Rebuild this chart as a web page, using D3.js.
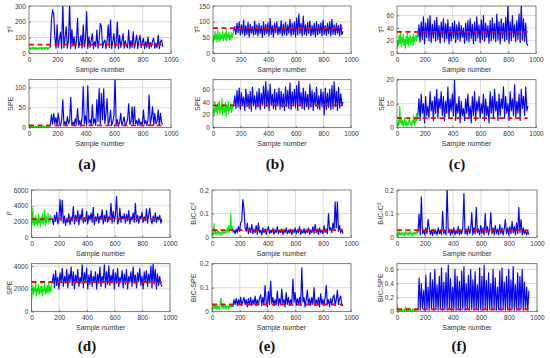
<!DOCTYPE html>
<html><head><meta charset="utf-8">
<script src="https://cdn.jsdelivr.net/npm/d3@7"></script>
<style>body{margin:0;background:#fff}svg{display:block}</style>
</head><body><svg id="c" width="550" height="358"></svg>
<script>
// ---------- data ----------
const xTicks = [0,200,400,600,800,1000];
const greenSamples = d3.range(0,151,5);   // sample numbers of normal data
const blueSamples = d3.range(150,943,8);  // sample numbers of fault data
const limitSpan = [0,940];
const panelNames = ["(a)","(b)","(c)","(d)","(e)","(f)"];

const a1Green=[25,38,22,35,28,40,24,36,30,38,22,34,27,39,25,36,29,40,23,35,28,38,24,37,30,39,26,35,28,38,35];
const a1Blue=[35,211,275,250,105,32,180,38,90,135,30,320,36,100,170,32,80,320,30,150,45,105,30,80,222,35,70,115,32,180,40,90,264,30,105,38,80,125,30,75,42,148,32,85,190,170,35,70,85,30,80,180,35,211,30,75,125,33,70,200,30,115,38,75,125,32,80,45,35,148,30,80,38,138,32,70,115,30,80,115,35,70,95,30,75,38,105,30,70,40,80,95,32,65,36,115,30,75,85,40];
const a2Green=[2,4,1,5,2,3,1,4,2,5,1,3,2,4,1,5,2,3,1,4,2,5,1,3,2,4,1,3,2,4,5];
const a2Blue=[5,33,8,36,10,25,6,36,12,4,20,70,8,15,5,28,10,18,76,6,14,5,23,8,48,6,18,4,25,103,10,30,6,105,12,20,5,57,10,22,6,70,15,98,8,86,20,97,10,35,73,6,18,44,5,15,30,125,8,20,4,12,36,6,15,27,5,12,20,60,8,15,52,6,52,10,18,5,23,8,14,6,44,10,18,5,20,82,8,25,52,6,36,10,15,44,6,36,12,8];

const b1Green=[20,55,40,70,45,60,35,72,50,38,65,42,58,48,70,40,55,62,45,75,38,60,50,68,42,57,45,65,50,60,70];
const b1Blue=[70,85,60,95,65,100,58,90,62,105,55,88,60,98,52,92,64,85,57,102,60,90,55,95,63,88,50,100,58,92,62,97,55,110,60,88,52,95,65,100,58,85,62,104,55,93,60,98,57,90,63,108,55,95,60,100,52,112,58,125,62,95,55,118,60,90,57,98,63,102,55,88,60,95,52,100,58,92,62,97,55,105,60,88,57,95,62,100,55,108,60,90,58,95,62,88,55,92,60,70];
const b2Green=[17,30,22,40,25,35,20,38,28,42,22,33,26,45,20,36,30,24,40,18,35,27,42,22,33,28,38,24,36,30,35];
const b2Blue=[35,50,30,58,32,62,28,55,35,48,27,60,33,52,30,57,26,63,34,50,29,56,32,61,28,54,35,65,30,72,33,58,27,68,35,52,30,60,28,55,34,62,29,57,32,53,27,64,33,58,30,70,28,56,35,60,31,66,27,73,34,55,30,62,28,57,33,52,29,68,32,58,27,55,34,63,30,50,28,60,33,56,20,62,29,54,32,60,28,66,30,72,33,57,27,63,31,53,34,40];

const c1Green=[8,20,12,28,15,35,10,25,18,30,12,22,8,27,15,33,11,24,18,29,13,20,26,14,31,17,23,28,20,32,25];
const c1Blue=[25,45,18,50,22,58,15,48,25,55,20,60,17,46,24,52,19,57,22,44,16,50,25,55,18,47,23,53,15,42,20,48,24,51,17,45,22,50,19,44,25,40,16,48,21,52,18,55,23,46,15,50,20,58,24,45,17,53,22,60,19,48,25,44,16,52,20,56,23,47,18,62,21,50,15,55,24,48,19,57,22,78,16,50,20,60,25,45,18,52,22,62,17,77,21,55,19,48,15,12];
const c2Green=[2,0.5,3,1,9,2,4,1,3,0.5,2,4,1,3,0.5,2,1,3,4,1,2,0.5,3,2,5,1,4,2,6,3,5];
const c2Blue=[5,12,3,14,6,10,2,13,5,9,4,15,7,11,3,13,6,16,4,12,8,15,5,13,3,11,6,17,4,12,7,14,5,20,3,10,6,13,2,11,5,8,3,12,6,14,4,9,2,13,5,15,3,11,7,13,4,10,6,14,3,12,5,9,2,15,6,13,4,16,7,11,3,14,5,12,8,17,4,13,6,10,3,15,7,12,5,18,4,11,6,14,3,16,8,13,5,17,7,9];

const d1Green=[1000,2200,3700,1600,2500,1400,2800,1700,2300,1500,2900,1800,2400,1400,2600,1900,3000,1600,2300,3500,1500,2700,1800,2400,3000,1700,2500,2000,2800,2300,2200];
const d1Blue=[2200,1600,2800,2000,3200,1700,2500,4800,2100,4700,1800,2700,1500,2400,1900,3000,1600,2600,2100,3900,1700,2800,2000,3400,1600,2900,2200,3600,1800,2500,2000,3300,1700,2800,2200,3100,1900,3800,1600,2600,2100,3000,1800,2700,2300,3500,1700,2800,2000,3400,1900,2600,2200,4300,1800,3300,2000,2800,5200,1700,2100,3700,1900,2700,2300,3000,1800,2900,2100,3400,1700,2600,2200,3100,1900,4300,2000,2800,1800,2700,2300,3200,1900,2600,2100,3600,1800,2900,3700,2200,1700,2700,2000,3100,1900,2600,2200,2800,1800,2300];
const d2Green=[800,1700,2300,1500,2100,1800,2500,1400,2000,1700,2400,1500,1900,2200,1600,2300,1400,2000,1800,2500,1500,2100,1700,2300,1600,2600,1800,2200,1700,2400,2500];
const d2Blue=[2500,3300,2100,3600,2300,3000,2000,3400,2600,3800,2200,3100,2500,3700,2100,3300,2700,3900,2300,3500,2000,3200,2600,3700,2200,3000,2500,4100,2100,3400,2700,3800,2000,3200,2400,3600,2200,3100,2600,3500,2000,3300,2500,3900,2200,3100,2700,4100,2100,3500,2400,4000,2300,3200,2600,3700,2000,3400,2500,3800,2200,3000,2700,3600,2100,3300,2400,3700,2000,3100,2600,3500,2200,3900,2500,3200,2100,3400,2700,3800,2300,3100,2000,3500,2600,3600,2200,3300,2500,4000,2100,4250,2400,3700,2000,3300,2300,3100,2400,2200];

const e1Green=[0.005,0.02,0.01,0.058,0.015,0.025,0.01,0.02,0.03,0.012,0.025,0.015,0.02,0.01,0.028,0.018,0.012,0.025,0.02,0.015,0.03,0.02,0.04,0.025,0.05,0.02,0.035,0.098,0.03,0.045,0.03];
const e1Blue=[0.02,0.03,0.015,0.035,0.02,0.045,0.025,0.06,0.07,0.16,0.12,0.04,0.025,0.06,0.015,0.04,0.02,0.055,0.015,0.035,0.02,0.05,0.012,0.06,0.02,0.03,0.01,0.04,0.02,0.035,0.012,0.03,0.045,0.015,0.03,0.02,0.038,0.012,0.03,0.02,0.045,0.015,0.03,0.02,0.035,0.012,0.028,0.02,0.04,0.015,0.03,0.018,0.035,0.012,0.03,0.02,0.04,0.015,0.032,0.02,0.045,0.012,0.03,0.018,0.038,0.015,0.03,0.02,0.04,0.012,0.03,0.02,0.045,0.015,0.055,0.02,0.035,0.012,0.04,0.02,0.03,0.015,0.05,0.02,0.035,0.015,0.1,0.03,0.04,0.02,0.06,0.03,0.15,0.04,0.15,0.025,0.05,0.02,0.035,0.015];
const e2Green=[0.02,0.01,0.025,0.012,0.03,0.015,0.022,0.01,0.028,0.015,0.02,0.012,0.045,0.055,0.018,0.028,0.012,0.025,0.015,0.03,0.01,0.022,0.018,0.028,0.012,0.025,0.015,0.03,0.02,0.025,0.03];
const e2Blue=[0.02,0.05,0.03,0.055,0.025,0.05,0.03,0.06,0.025,0.045,0.06,0.03,0.05,0.02,0.055,0.03,0.06,0.025,0.05,0.03,0.065,0.025,0.05,0.03,0.055,0.07,0.025,0.06,0.03,0.11,0.04,0.02,0.085,0.03,0.128,0.035,0.06,0.025,0.05,0.03,0.086,0.025,0.055,0.03,0.094,0.035,0.05,0.02,0.08,0.03,0.06,0.025,0.05,0.03,0.136,0.04,0.08,0.025,0.055,0.03,0.06,0.025,0.183,0.04,0.06,0.02,0.05,0.09,0.03,0.055,0.025,0.06,0.03,0.1,0.025,0.05,0.03,0.06,0.02,0.075,0.03,0.05,0.025,0.06,0.11,0.03,0.05,0.02,0.055,0.03,0.06,0.07,0.025,0.05,0.09,0.03,0.055,0.065,0.025,0.03];

const f1Green=[0.01,0.02,0.005,0.025,0.012,0.018,0.008,0.022,0.015,0.01,0.02,0.006,0.025,0.014,0.018,0.01,0.022,0.008,0.02,0.015,0.025,0.01,0.018,0.006,0.022,0.014,0.02,0.01,0.024,0.018,0.02];
const f1Blue=[0.02,0.098,0.01,0.17,0.015,0.03,0.01,0.04,0.015,0.076,0.04,0.012,0.03,0.008,0.035,0.015,0.028,0.01,0.04,0.015,0.03,0.01,0.11,0.015,0.03,0.01,0.22,0.02,0.035,0.008,0.03,0.015,0.04,0.01,0.03,0.015,0.045,0.01,0.03,0.015,0.04,0.185,0.015,0.035,0.01,0.045,0.015,0.03,0.105,0.01,0.04,0.015,0.127,0.02,0.035,0.01,0.05,0.015,0.04,0.01,0.1,0.02,0.045,0.01,0.035,0.105,0.015,0.04,0.01,0.05,0.015,0.035,0.01,0.054,0.015,0.04,0.01,0.035,0.076,0.015,0.04,0.01,0.045,0.015,0.068,0.02,0.045,0.01,0.06,0.015,0.127,0.02,0.075,0.01,0.04,0.015,0.03,0.01,0.025,0.012];
const f2Green=[0.1,0.02,0.04,0.01,0.03,0.015,0.02,0.01,0.025,0.015,0.03,0.01,0.07,0.02,0.015,0.03,0.01,0.025,0.05,0.015,0.02,0.01,0.04,0.015,0.03,0.01,0.02,0.015,0.03,0.02,0.03];
const f2Blue=[0.03,0.48,0.02,0.4,0.05,0.3,0.02,0.52,0.03,0.35,0.02,0.55,0.04,0.45,0.02,0.6,0.03,0.38,0.02,0.5,0.05,0.62,0.02,0.42,0.03,0.55,0.02,0.66,0.04,0.47,0.02,0.35,0.03,0.6,0.02,0.5,0.05,0.43,0.02,0.58,0.03,0.64,0.02,0.4,0.04,0.52,0.02,0.6,0.03,0.45,0.02,0.57,0.04,0.38,0.02,0.62,0.03,0.5,0.02,0.66,0.05,0.44,0.02,0.55,0.03,0.4,0.02,0.6,0.04,0.48,0.02,0.35,0.03,0.58,0.02,0.62,0.05,0.42,0.02,0.5,0.03,0.6,0.02,0.45,0.04,0.64,0.02,0.38,0.03,0.55,0.02,0.5,0.04,0.6,0.02,0.42,0.03,0.35,0.02,0.3];

const yLabels = ["T²","SPE","T²","SPE","T²","SPE","I²","SPE","BIC-C²","BIC-SPE","BIC-C²","BIC-SPE"];
const yMaxes  = [300,120,150,75,75,20,6000,4200,0.2,0.2,0.2,0.68];
const yTickSets = [[0,100,200,300],[0,50,100],[0,50,100,150],[0,20,40,60],[0,20,40,60],[0,10,20],
                   [0,2000,4000,6000],[0,2000,4000],[0,0.1,0.2],[0,0.1,0.2],[0,0.1,0.2],[0,0.2,0.4,0.6]];
const limits = [55,6,80,35,34,4,2300,2600,0.03,0.03,0.03,0.035];
const greens = [a1Green,a2Green,b1Green,b2Green,c1Green,c2Green,d1Green,d2Green,e1Green,e2Green,f1Green,f2Green];
const blues  = [a1Blue,a2Blue,b1Blue,b2Blue,c1Blue,c2Blue,d1Blue,d2Blue,e1Blue,e2Blue,f1Blue,f2Blue];

// ---------- layout ----------
const colX = [[29,171],[213,351],[397,536],[31.5,170],[212,351],[397,537]];
const rowY = [[[6,53.3],[79.7,127.7]],[[190,237.3],[263.7,311.7]]];
const yLabelX = [10,197,381,9.5,193,380];
const panelLabelX = [87,275,457,87,267,459];
const panelLabelY = [163.5,345.5];

const svg = d3.select("#c");
const defs = svg.append("defs");
const FONT = "'Liberation Sans', Arial, Helvetica, sans-serif";

for (let p = 0; p < 6; p++) {
  const row = p < 3 ? 0 : 1;
  for (let s = 0; s < 2; s++) {
    const k = p*2 + s;
    const [x0,x1] = colX[p];
    const [y0,y1] = rowY[row][s];
    const x = d3.scaleLinear().domain([0,1000]).range([x0,x1]);
    const y = d3.scaleLinear().domain([0,yMaxes[k]]).range([y1,y0]);
    const g = svg.append("g");

    // grid
    g.selectAll(null).data(xTicks.filter(t=>t>0&&t<1000)).join("line")
      .attr("x1",d=>x(d)).attr("x2",d=>x(d)).attr("y1",y0).attr("y2",y1)
      .attr("stroke","#cfcfcf").attr("stroke-width",0.8);
    g.selectAll(null).data(yTickSets[k].filter(t=>t>0&&t<yMaxes[k])).join("line")
      .attr("x1",x0).attr("x2",x1).attr("y1",d=>y(d)).attr("y2",d=>y(d))
      .attr("stroke","#cfcfcf").attr("stroke-width",0.8);

    // clip
    const cid = "clip"+k;
    defs.append("clipPath").attr("id",cid).append("rect")
      .attr("x",x0).attr("y",y0).attr("width",x1-x0).attr("height",y1-y0);
    const plot = g.append("g").attr("clip-path",`url(#${cid})`);
    const line = d3.line().x(d=>x(d[0])).y(d=>y(d[1]));

    const gData = greenSamples.map((sn,i)=>[sn,greens[k][i]]).filter(d=>d[1]!==undefined);
    const bData = blueSamples.map((sn,i)=>[sn,blues[k][i]]).filter(d=>d[1]!==undefined);
    plot.append("path").attr("d",line(bData)).attr("fill","none")
      .attr("stroke","#0000ff").attr("stroke-width",1.15).attr("stroke-linejoin","round");
    plot.append("path").attr("d",line(gData)).attr("fill","none")
      .attr("stroke","#00ee00").attr("stroke-width",1.1).attr("stroke-linejoin","round");
    plot.append("path").attr("d",line(limitSpan.map(v=>[v,limits[k]]))).attr("fill","none")
      .attr("stroke","#ff0000").attr("stroke-width",1.8).attr("stroke-dasharray","5,3.5");

    // axes
    const ax = g.append("g").attr("transform",`translate(0,${y1})`)
      .call(d3.axisBottom(x).tickValues(xTicks).tickSizeInner(-2).tickSizeOuter(0).tickPadding(3.7).tickFormat(d3.format("d")));
    const ay = g.append("g").attr("transform",`translate(${x0},0)`)
      .call(d3.axisLeft(y).tickValues(yTickSets[k]).tickSizeInner(-2).tickSizeOuter(0).tickPadding(3.2).tickFormat(d=>String(d)));
    [ax,ay].forEach(a=>{
      a.select(".domain").remove();
      a.selectAll("line").attr("stroke","#444").attr("stroke-width",0.6);
      a.selectAll("text").attr("fill","#333").style("font-family",FONT).style("font-size","6.5px");
    });

    // box
    g.append("rect").attr("x",x0).attr("y",y0).attr("width",x1-x0).attr("height",y1-y0)
      .attr("fill","none").attr("stroke","#444").attr("stroke-width",0.7);

    // labels
    g.append("text").attr("x",(x0+x1)/2).attr("y",y1+16).attr("dy","0.35em")
      .attr("text-anchor","middle").style("font-family",FONT).style("font-size","7px")
      .attr("fill","#333").text("Sample number");
    g.append("text").attr("transform",`translate(${yLabelX[p]},${(y0+y1)/2}) rotate(-90)`)
      .attr("dy","0.35em").attr("text-anchor","middle").style("font-family",FONT)
      .style("font-size","7.2px").attr("fill","#333").text(yLabels[k]);
  }
  svg.append("text").attr("x",panelLabelX[p]).attr("y",panelLabelY[row]).attr("dy","0.35em")
    .attr("text-anchor","middle").style("font-family","'Liberation Serif','Times New Roman',serif")
    .style("font-size","15px").style("font-weight","bold").attr("fill","#111").text(panelNames[p]);
}
</script>
</body></html>
